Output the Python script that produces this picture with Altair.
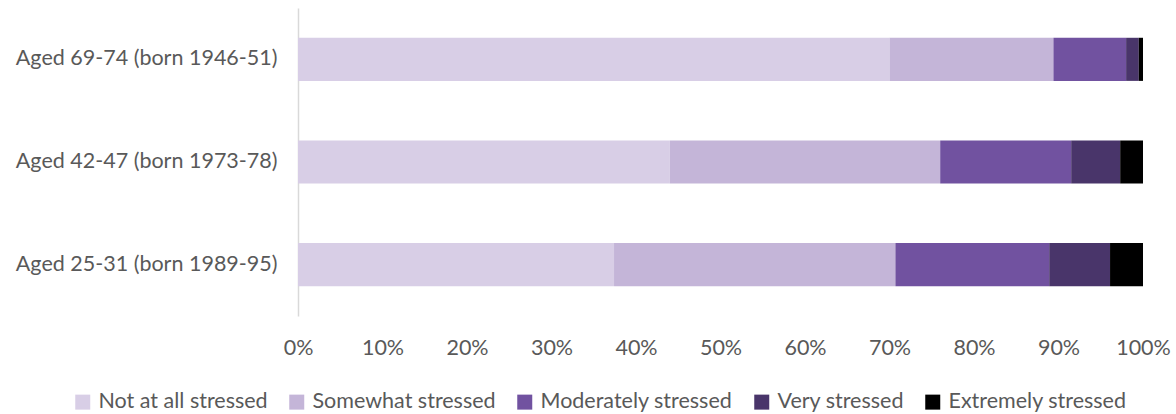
import altair as alt
import pandas as pd

groups = ["Aged 69-74 (born 1946-51)", "Aged 42-47 (born 1973-78)", "Aged 25-31 (born 1989-95)"]
levels = ["Not at all stressed", "Somewhat stressed", "Moderately stressed", "Very stressed", "Extremely stressed"]
colors = ["#D8CEE6", "#C4B5D8", "#7152A0", "#49356A", "#000000"]

# share of each group (%) per stress level, in the order of `levels`
shares = {
    "Aged 69-74 (born 1946-51)": [70.0, 19.4, 8.6, 1.5, 0.5],
    "Aged 42-47 (born 1973-78)": [44.0, 32.0, 15.5, 5.8, 2.7],
    "Aged 25-31 (born 1989-95)": [37.4, 33.3, 18.2, 7.2, 3.9],
}

rows = []
for g in groups:
    for i, (lvl, v) in enumerate(zip(levels, shares[g])):
        rows.append({"group": g, "level": lvl, "idx": i, "value": v / 100})
df = pd.DataFrame(rows)

FONT = "Lato"
TEXT = "#595959"
FS = 21.5

chart = alt.Chart(df).mark_bar().encode(
    x=alt.X("value:Q", stack="zero",
            scale=alt.Scale(domain=[0, 1], nice=False),
            axis=alt.Axis(format="%", values=[i / 10 for i in range(11)], title=None,
                          grid=False, domain=False, ticks=False, labelPadding=21,
                          labelFlush=False, labelOverlap=False,
                          labelFontSize=FS, labelColor=TEXT, labelFont=FONT)),
    y=alt.Y("group:N", sort=groups, title=None,
            scale=alt.Scale(paddingInner=0.58, paddingOuter=0.29),
            axis=alt.Axis(ticks=False, domainColor="#D9D9D9", domainWidth=1.5, labelPadding=21,
                          labelFontSize=FS, labelColor=TEXT, labelFont=FONT, labelLimit=400)),
    color=alt.Color("level:N", sort=levels,
                    scale=alt.Scale(domain=levels, range=colors),
                    legend=alt.Legend(title=None, orient="none", direction="horizontal",
                                      columns=5, legendX=-226, legendY=383,
                                      symbolType="square", symbolSize=225, symbolStrokeWidth=0,
                                      labelFontSize=FS, labelColor=TEXT, labelFont=FONT,
                                      labelOffset=5, columnPadding=18, labelLimit=400)),
    order=alt.Order("idx:Q", sort="ascending"),
).properties(
    width=845, height=308,
    autosize=alt.AutoSizeParams(type="none"),
    padding={"left": 298, "top": 8, "right": 33, "bottom": 98},
).configure_view(stroke=None)

chart.save("out.html", embed_options={"renderer": "svg", "actions": False})
